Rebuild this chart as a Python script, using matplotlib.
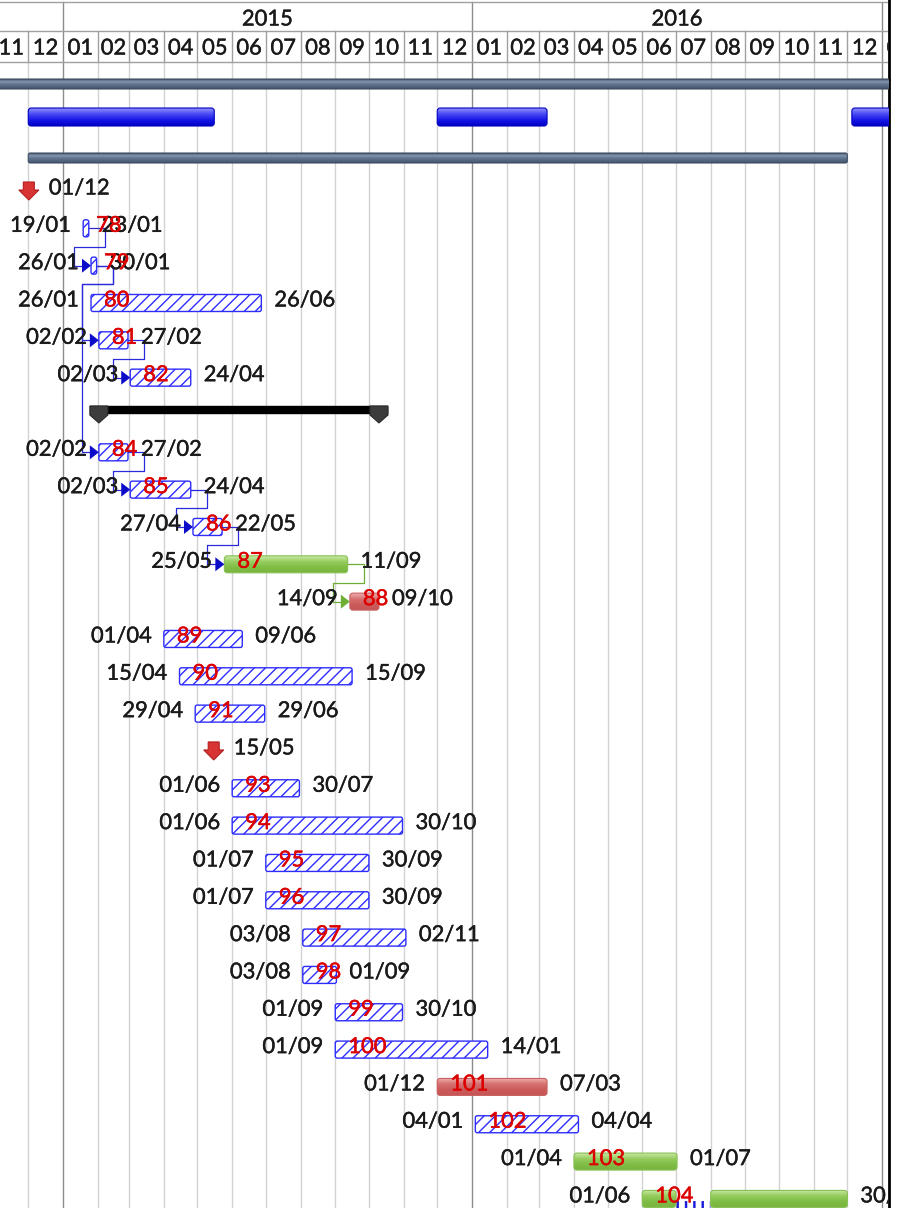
import matplotlib

matplotlib.use("Agg")
import matplotlib.pyplot as plt
import matplotlib.dates as mdates
import matplotlib.patheffects as pe
import numpy as np
import pandas as pd
from matplotlib.colors import to_rgb
from matplotlib.patches import FancyBboxPatch, Polygon

# ---- data -------------------------------------------------------------
task_ids = ["78", "79", "80", "81", "82", "84", "85", "86", "87", "88", "89", "90", "91",
            "93", "94", "95", "96", "97", "98", "99", "100", "101", "102", "103", "104"]
task_rows = [4, 5, 6, 7, 8, 10, 11, 12, 13, 14, 15, 16, 17,
             19, 20, 21, 22, 23, 24, 25, 26, 27, 28, 29, 30]
task_starts = ["2015-01-19", "2015-01-26", "2015-01-26", "2015-02-02", "2015-03-02",
               "2015-02-02", "2015-03-02", "2015-04-27", "2015-05-25", "2015-09-14",
               "2015-04-01", "2015-04-15", "2015-04-29", "2015-06-01", "2015-06-01",
               "2015-07-01", "2015-07-01", "2015-08-03", "2015-08-03", "2015-09-01",
               "2015-09-01", "2015-12-01", "2016-01-04", "2016-04-01", "2016-06-01"]
task_ends = ["2015-01-23", "2015-01-30", "2015-06-26", "2015-02-27", "2015-04-24",
             "2015-02-27", "2015-04-24", "2015-05-22", "2015-09-11", "2015-10-09",
             "2015-06-09", "2015-09-15", "2015-06-29", "2015-07-30", "2015-10-30",
             "2015-09-30", "2015-09-30", "2015-11-02", "2015-09-01", "2015-10-30",
             "2016-01-14", "2016-03-07", "2016-04-04", "2016-07-01", "2016-11-30"]
task_kinds = ["hatch"] * 8 + ["green", "red"] + ["hatch"] * 11 + ["red", "hatch", "green", "green"]

# task 104 is split: first part ends, second part resumes
split_task = "104"
split_pause = "2016-06-30"
split_resume = "2016-08-01"

milestone_rows = [3, 18]
milestone_dates = ["2014-12-01", "2015-05-15"]

group_row = 9
group_start = "2015-02-02"
group_end = "2015-10-09"

rollup_segments = [("2014-12-01", "2015-05-15"), ("2015-12-01", "2016-03-07"),
                   ("2016-12-05", "2017-03-01")]
outline_span = ("2014-10-01", "2017-03-01")
project_span = ("2014-12-01", "2016-11-30")

links = [("78", "79"), ("79", "81"), ("79", "84"), ("81", "82"), ("84", "85"),
         ("85", "86"), ("86", "87"), ("87", "88")]

years = [2015, 2016]

# ---- scale ------------------------------------------------------------
PPD = 1.1205  # pixels per day
W, H = 899, 1208
AX_W = 889
origin = mdates.date2num(pd.Timestamp("2015-01-01"))
x_left = origin - 63 / PPD
x_right = x_left + AX_W / PPD


def num(s):
    return mdates.date2num(pd.Timestamp(s))


def px(d):
    return d / PPD


def row_y(r):
    return 187 + (r - 3) * 37.33


FONT = ["Lato", "DejaVu Sans"]
FS = 15.8
STROKE = 0.3

fig = plt.figure(figsize=(W / 100, H / 100), dpi=100)
ax = fig.add_axes([0, 0, AX_W / W, 1])
ax.set_xlim(x_left, x_right)
ax.set_ylim(H, 0)
ax.set_xticks([])
ax.set_yticks([])
for side in ["top", "left", "bottom"]:
    ax.spines[side].set_visible(False)
ax.spines["right"].set_color("black")
ax.spines["right"].set_linewidth(2)


def label(x, y, s, ha="left", color="#1a1a1a", z=6):
    ax.text(x, y + 7.5, s, ha=ha, va="baseline", fontsize=FS, color=color,
            family=FONT, zorder=z, clip_on=True,
            path_effects=[pe.withStroke(linewidth=STROKE, foreground=color)])


def grad_bar(x0, x1, yc, h, stops, edge, radius=3, z=3, lw=0.8):
    patch = FancyBboxPatch((x0, yc - h / 2), x1 - x0, h,
                           boxstyle=f"round,pad=0,rounding_size={px(radius)}",
                           mutation_aspect=PPD, fc="none", ec=edge, lw=lw, zorder=z + 0.1)
    ax.add_patch(patch)
    cols = np.array([to_rgb(c) for c in stops])
    n = 40
    t = np.linspace(0, 1, n)
    pos = np.linspace(0, 1, len(cols))
    arr = np.stack([np.interp(t, pos, cols[:, k]) for k in range(3)], axis=1)[:, None, :]
    im = ax.imshow(arr, extent=(x0, x1, yc + h / 2, yc - h / 2), origin="upper",
                   aspect="auto", interpolation="bilinear", zorder=z)
    im.set_clip_path(patch)


# ---- header -----------------------------------------------------------
months = pd.date_range("2014-11-01", "2017-02-01", freq="MS")
for m in months[:-1]:
    m_next = m + pd.offsets.MonthBegin(1)
    xc = (num(m) + num(m_next)) / 2
    ax.text(xc, 54.5, m.strftime("%m"), ha="center", va="baseline", fontsize=FS,
            color="#1a1a1a", family=FONT, clip_on=True,
            path_effects=[pe.withStroke(linewidth=STROKE, foreground="#1a1a1a")])
for m in months:
    xm = num(m)
    if m.month == 1:
        ax.plot([xm, xm], [2, H], color="#8c8c8c", lw=1.0, zorder=1)
    else:
        ax.plot([xm, xm], [31, 62], color="#a0a0a0", lw=1.0, zorder=1)
        ax.plot([xm, xm], [62, H], color="#d2d2d2", lw=1.0, zorder=1)
for yr in years:
    xc = (num(f"{yr}-01-01") + num(f"{yr + 1}-01-01")) / 2
    ax.text(xc, 25.5, str(yr), ha="center", va="baseline", fontsize=FS,
            color="#1a1a1a", family=FONT, clip_on=True,
            path_effects=[pe.withStroke(linewidth=STROKE, foreground="#1a1a1a")])
for yl in [2, 31, 62]:
    ax.axhline(yl, color="#a0a0a0", lw=1.0, zorder=1)

# ---- summary / rollup rows --------------------------------------------
slate = ["#3f4f66", "#8596b0", "#62758f", "#55677f", "#3f4f66"]
grad_bar(num(outline_span[0]), num(outline_span[1]), 84, 10, slate, "#3f4f66", radius=2)
grad_bar(num(project_span[0]), num(project_span[1]) + 1, 158, 10, slate, "#3f4f66", radius=2)
for s, e in rollup_segments:
    grad_bar(num(s), num(e) + 1, 117, 18, ["#9090ff", "#4848f5", "#1717e6", "#0000c4"],
             "#0000c0", radius=3)

# ---- milestones -------------------------------------------------------
for r, d in zip(milestone_rows, milestone_dates):
    cx = num(d) + 0.5
    ry = row_y(r)
    pts = [(cx - px(5.5), ry - 5), (cx + px(5.5), ry - 5), (cx + px(5.5), ry + 3),
           (cx + px(10), ry + 3), (cx, ry + 13), (cx - px(10), ry + 3), (cx - px(5.5), ry + 3)]
    ax.add_patch(Polygon(pts, closed=True, fc="#d83434", ec="#b41e1e", lw=0.8, zorder=4))
    label(cx + px(20), ry, pd.Timestamp(d).strftime("%d/%m"))

# ---- group summary bar ------------------------------------------------
gy = row_y(group_row)
gs, ge = num(group_start), num(group_end) + 1
ax.fill_between([gs - px(8), ge + px(8)], gy - 5, gy + 2, color="black", zorder=3)
for cx in (gs, ge):
    pts = [(cx - px(9), gy - 5), (cx + px(9), gy - 5), (cx + px(9), gy + 4),
           (cx, gy + 12), (cx - px(9), gy + 4)]
    ax.add_patch(Polygon(pts, closed=True, fc="#3c3c3c", ec="#2a2a2a", lw=0.8, zorder=4))

# ---- tasks ------------------------------------------------------------
tasks = {}
for tid, r, s, e, kind in zip(task_ids, task_rows, task_starts, task_ends, task_kinds):
    xs, xe = num(s), num(e) + 1
    ry = row_y(r)
    yc = ry + 4
    tasks[tid] = (xs, xe, yc)
    if tid == split_task:
        segs = [(xs, num(split_pause) + 1), (num(split_resume), xe)]
    else:
        segs = [(xs, xe)]
    for x0, x1 in segs:
        if kind == "hatch":
            ax.add_patch(FancyBboxPatch((x0, yc - 8.5), x1 - x0, 17,
                                        boxstyle=f"round,pad=0,rounding_size={px(2)}",
                                        mutation_aspect=PPD, fc="white", ec="#2d2dff",
                                        hatch="///", lw=1.0, zorder=3))
        elif kind == "green":
            grad_bar(x0, x1, yc, 17, ["#c8e8a2", "#95cc5e", "#80bd45", "#79b53f"], "#86c052")
        else:
            grad_bar(x0, x1, yc, 17, ["#eeb0b0", "#d67272", "#cc5c5c", "#c75555"], "#c96060")
    if tid == split_task:
        ax.plot([num(split_pause) + 1.5, num(split_resume) - 0.5], [yc + 5, yc + 5],
                color="#1c1cd8", lw=5, linestyle=(0, (0.35, 0.85)),
                solid_capstyle="butt", dash_capstyle="butt", zorder=3)
    label(xs - px(12), ry, pd.Timestamp(s).strftime("%d/%m"), ha="right")
    label(xe + px(13), ry, pd.Timestamp(e).strftime("%d/%m"))
    label(xs + px(13), ry, tid, color="#dc0000", z=7)

# ---- dependency links -------------------------------------------------
for a, b in links:
    xs_a, xe_a, ya = tasks[a]
    xs_b, xe_b, yb = tasks[b]
    col = "#6fae34" if task_kinds[task_ids.index(a)] == "green" else "#2a2ad8"
    xr = xe_a + px(16)
    ymid = ya + 18.5
    xl = xs_b - px(17)
    ax.plot([xe_a, xr, xr, xl, xl, xs_b - px(9)], [ya, ya, ymid, ymid, yb, yb],
            color=col, lw=0.9, zorder=5, solid_joinstyle="round")
    tri = [(xs_b - px(9), yb - 7), (xs_b - px(9), yb + 7), (xs_b, yb)]
    ax.add_patch(Polygon(tri, closed=True, fc="#0b0bc8" if col == "#2a2ad8" else "#6fae34",
                         ec="none", zorder=5))

ax.set_xlim(x_left, x_right)
ax.set_ylim(H, 0)
ax.set_aspect("auto")
fig.savefig("out.png", dpi=100)
